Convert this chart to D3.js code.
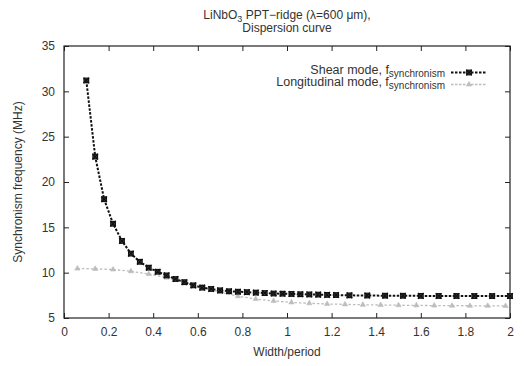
<!DOCTYPE html>
<html>
<head>
<meta charset="utf-8">
<script src="https://cdn.jsdelivr.net/npm/d3@7"></script>
<style>
  body { margin: 0; background: #fff; }
  svg { display: block; font-family: "Liberation Sans", Arial, sans-serif; }
</style>
</head>
<body>
<svg id="chart" width="524" height="366"></svg>
<script>
// shear mode, synchronism frequency (MHz) vs width/period
var shearX = [0.10, 0.14, 0.18, 0.22, 0.26, 0.30, 0.34, 0.38, 0.42, 0.46, 0.50, 0.54, 0.58, 0.62,
  0.66, 0.70, 0.74, 0.78, 0.82, 0.86, 0.90, 0.94, 0.98, 1.02, 1.06, 1.10, 1.14, 1.18, 1.22,
  1.28, 1.36, 1.44, 1.52, 1.60, 1.68, 1.76, 1.84, 1.92, 2.00];
var shearY = [31.2, 22.8, 18.1, 15.4, 13.5, 12.1, 11.2, 10.55, 10.1, 9.7, 9.3, 8.95, 8.6, 8.35,
  8.2, 8.05, 7.95, 7.9, 7.85, 7.8, 7.75, 7.7, 7.68, 7.65, 7.62, 7.6, 7.58, 7.55, 7.53,
  7.5, 7.48, 7.46, 7.45, 7.44, 7.43, 7.43, 7.42, 7.42, 7.42];

// longitudinal mode
var longX = [0.06, 0.14, 0.22, 0.30, 0.38, 0.46, 0.54, 0.62, 0.70, 0.78, 0.86, 0.94, 1.02,
  1.10, 1.18, 1.26, 1.34, 1.42, 1.50, 1.58, 1.66, 1.74, 1.82, 1.90, 1.98];
var longY = [10.45, 10.42, 10.35, 10.15, 9.85, 9.45, 8.95, 8.4, 7.85, 7.4, 7.1, 6.88, 6.72,
  6.62, 6.55, 6.5, 6.46, 6.43, 6.41, 6.39, 6.37, 6.36, 6.35, 6.34, 6.33];

var xTicks = [0, 0.2, 0.4, 0.6, 0.8, 1, 1.2, 1.4, 1.6, 1.8, 2];
var yTicks = [5, 10, 15, 20, 25, 30, 35];

var svg = d3.select('#chart');
var margin = {left: 64, right: 14, top: 46, bottom: 48};
var W = 524, H = 366;

var x = d3.scaleLinear().domain([0, 2]).range([margin.left, W - margin.right]);
var y = d3.scaleLinear().domain([5, 35]).range([H - margin.bottom, margin.top]);

var textCol = '#333';

// title
var title = svg.append('text').attr('x', 287).attr('y', 18.5)
  .attr('text-anchor', 'middle').attr('font-size', 12).attr('fill', textCol);
title.append('tspan').text('LiNbO');
title.append('tspan').attr('font-size', 9).attr('dy', 3).text('3');
title.append('tspan').attr('dy', -3).text(' PPT\u2212ridge (\u03bb=600 \u03bcm),');
svg.append('text').attr('x', 287).attr('y', 32)
  .attr('text-anchor', 'middle').attr('font-size', 12).attr('fill', textCol)
  .text('Dispersion curve');

// axes (ticks inward, mirrored)
var tk = 5;
svg.append('g').attr('transform', 'translate(0,' + y.range()[0] + ')')
  .call(d3.axisBottom(x).tickValues(xTicks).tickSizeInner(-tk).tickSizeOuter(0).tickPadding(9)
    .tickFormat(d3.format('')));
svg.append('g').attr('transform', 'translate(0,' + y.range()[1] + ')')
  .call(d3.axisTop(x).tickValues(xTicks).tickSizeInner(-tk).tickSizeOuter(0).tickFormat(''));
svg.append('g').attr('transform', 'translate(' + x.range()[0] + ',0)')
  .call(d3.axisLeft(y).tickValues(yTicks).tickSizeInner(-tk).tickSizeOuter(0).tickPadding(9));
svg.append('g').attr('transform', 'translate(' + x.range()[1] + ',0)')
  .call(d3.axisRight(y).tickValues(yTicks).tickSizeInner(-tk).tickSizeOuter(0).tickFormat(''));

svg.selectAll('.domain').remove();
svg.selectAll('.tick line').attr('stroke', '#222');
svg.selectAll('.tick text').attr('font-size', 12).attr('fill', textCol)
  .attr('font-family', '"Liberation Sans", Arial, sans-serif');

svg.append('rect')
  .attr('x', x.range()[0]).attr('y', y.range()[1])
  .attr('width', x.range()[1] - x.range()[0]).attr('height', y.range()[0] - y.range()[1])
  .attr('fill', 'none').attr('stroke', '#222').attr('stroke-width', 1.2);

// axis labels
svg.append('text').attr('x', 287).attr('y', 356).attr('text-anchor', 'middle')
  .attr('font-size', 12).attr('fill', textCol).text('Width/period');
svg.append('text').attr('transform', 'translate(22,' + ((y.range()[0] + y.range()[1]) / 2) + ') rotate(-90)')
  .attr('text-anchor', 'middle').attr('font-size', 12).attr('fill', textCol)
  .text('Synchronism frequency (MHz)');

var line = d3.line().x(d => x(d[0])).y(d => y(d[1]));

var longData = longX.map((v, i) => [v, longY[i]]);
var shearData = shearX.map((v, i) => [v, shearY[i]]);

var longCol = '#bdbdbd';
var shearCol = '#111';

function triangle(g, cx, cy) {
  g.append('path').attr('d', d3.symbol(d3.symbolTriangle, 12)())
    .attr('transform', 'translate(' + cx + ',' + cy + ')')
    .attr('fill', longCol).attr('stroke', longCol).attr('stroke-width', 0.6);
}

function boxX(g, cx, cy) {
  var s = 2.3;
  g.append('rect').attr('x', cx - s).attr('y', cy - s).attr('width', 2 * s).attr('height', 2 * s)
    .attr('fill', '#555').attr('stroke', shearCol).attr('stroke-width', 1.2);
  g.append('path')
    .attr('d', 'M' + (cx - s - 0.5) + ',' + (cy - s - 0.5) + 'L' + (cx + s + 0.5) + ',' + (cy + s + 0.5) +
      'M' + (cx - s - 0.5) + ',' + (cy + s + 0.5) + 'L' + (cx + s + 0.5) + ',' + (cy - s - 0.5))
    .attr('stroke', shearCol).attr('stroke-width', 1.4);
}

// longitudinal first (drawn underneath)
var plot = svg.append('g');
plot.append('path').datum(longData).attr('d', line)
  .attr('fill', 'none').attr('stroke', longCol).attr('stroke-width', 1.3)
  .attr('stroke-dasharray', '2.5,2');
var lg = plot.append('g');
longData.forEach(d => triangle(lg, x(d[0]), y(d[1])));

plot.append('path').datum(shearData).attr('d', line)
  .attr('fill', 'none').attr('stroke', shearCol).attr('stroke-width', 2)
  .attr('stroke-dasharray', '2.5,1.5');
var sg = plot.append('g');
shearData.forEach(d => boxX(sg, x(d[0]), y(d[1])));

// legend
var legend = [
  {label: 'Shear mode, f', y: 72.5, draw: boxX, col: shearCol, w: 2},
  {label: 'Longitudinal mode, f', y: 84.5, draw: triangle, col: longCol, w: 1.3}
];
legend.forEach(function(l) {
  var t = svg.append('text').attr('x', 445).attr('y', l.y + 1.5).attr('text-anchor', 'end')
    .attr('font-size', 12.5).attr('fill', textCol);
  t.append('tspan').text(l.label);
  t.append('tspan').attr('font-size', 10).attr('dy', 3).text('synchronism');
  svg.append('line').attr('x1', 451).attr('x2', 487).attr('y1', l.y).attr('y2', l.y)
    .attr('stroke', l.col).attr('stroke-width', l.w).attr('stroke-dasharray', '2.5,1.5');
  l.draw(svg, 469, l.y);
});
</script>
</body>
</html>
